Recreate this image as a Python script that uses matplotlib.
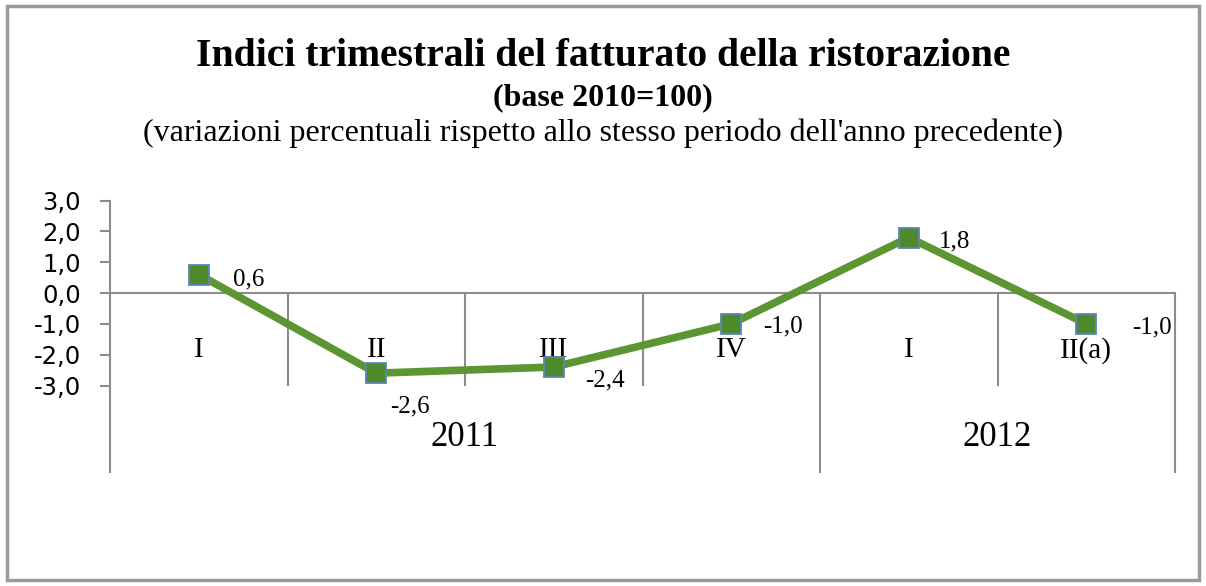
import matplotlib
matplotlib.use("Agg")
from matplotlib import pyplot as plt
from matplotlib.patches import Rectangle

# data
quarters = ["I", "II", "III", "IV", "I", "II(a)"]
years = ["2011", "2012"]
year_spans = [(0, 4), (4, 6)]
values = [0.6, -2.6, -2.4, -1.0, 1.8, -1.0]
value_labels = ["0,6", "-2,6", "-2,4", "-1,0", "1,8", "-1,0"]
yticks = [3, 2, 1, 0, -1, -2, -3]
ytick_labels = ["3,0", "2,0", "1,0", "0,0", "-1,0", "-2,0", "-3,0"]

title = "Indici trimestrali del fatturato della ristorazione"
subtitle = "(base 2010=100)"
subsubtitle = "(variazioni percentuali rispetto allo stesso periodo dell'anno precedente)"

W, H = 1206, 586
fig = plt.figure(figsize=(W / 100, H / 100), dpi=100)
fig.patch.set_facecolor("white")

# outer frame
fig.patches.append(Rectangle((7 / W, 6 / H), 1192 / W, 574 / H, transform=fig.transFigure,
                             fill=False, edgecolor="#9a9a9a", linewidth=2.5))

serif = ["Liberation Serif", "DejaVu Serif"]
fig.text(603 / W, 1 - 57 / H, title, ha="center", va="center", fontsize=28.5,
         fontweight="bold", family=serif)
fig.text(603 / W, 1 - 98 / H, subtitle, ha="center", va="center", fontsize=23,
         fontweight="bold", family=serif)
fig.text(603 / W, 1 - 133 / H, subsubtitle, ha="center", va="center", fontsize=23,
         family=serif)

# axes: x 0..6 -> px 110..1175, y -3..3 -> px 384..200
x0, x1 = 110, 1175
ytop, ybot = 200.5, 385.5
ax = fig.add_axes([x0 / W, 1 - ybot / H, (x1 - x0) / W, (ybot - ytop) / H])
ax.set_xlim(0, 6)
ax.set_ylim(-3, 3)
ax.patch.set_alpha(0)
for s in ["top", "right", "bottom"]:
    ax.spines[s].set_visible(False)
ax.spines["left"].set_color("#8c8c8c")
ax.spines["left"].set_linewidth(1.5)
ax.spines["left"].set_bounds(-5.8, 3)

ax.set_yticks(yticks)
ax.set_yticklabels(ytick_labels, fontsize=17.5, family="DejaVu Sans")
ax.tick_params(axis="y", length=7, width=1.5, color="#8c8c8c", pad=14)
ax.set_xticks([])

gray = "#8c8c8c"
ax.axhline(0, color=gray, lw=1.5, zorder=1)
# category separators
for i in range(1, 7):
    bottom = -5.8 if i in (4, 6) else -2.97
    ax.plot([i, i], [0, bottom], color=gray, lw=1.5, clip_on=False, zorder=1)

xs = [i + 0.5 for i in range(len(values))]
for x, q in zip(xs, quarters):
    ax.text(x, -1.86, q, ha="center", va="center", fontsize=21, family=serif, clip_on=False)
for (a, b), y in zip(year_spans, years):
    ax.text((a + b) / 2, -4.7, y, ha="center", va="center", fontsize=25, family=serif,
            clip_on=False)

ax.plot(xs, values, color="#5c9632", lw=5.5, marker="s", markersize=15,
        markerfacecolor="#4e8a2c", markeredgecolor="#5b86b8", markeredgewidth=1.3,
        zorder=3, clip_on=False)

offsets = [(0.28, -0.17), (0.19, -1.07), (0.29, -0.45), (0.29, -0.08), (0.26, -0.13), (0.37, -0.12)]
for x, v, lab, (dx, dy) in zip(xs, values, value_labels, offsets):
    ax.text(x + dx, v + dy, lab, ha="center", va="center", fontsize=18, family=serif,
            clip_on=False)

fig.savefig("out.png", dpi=100)
